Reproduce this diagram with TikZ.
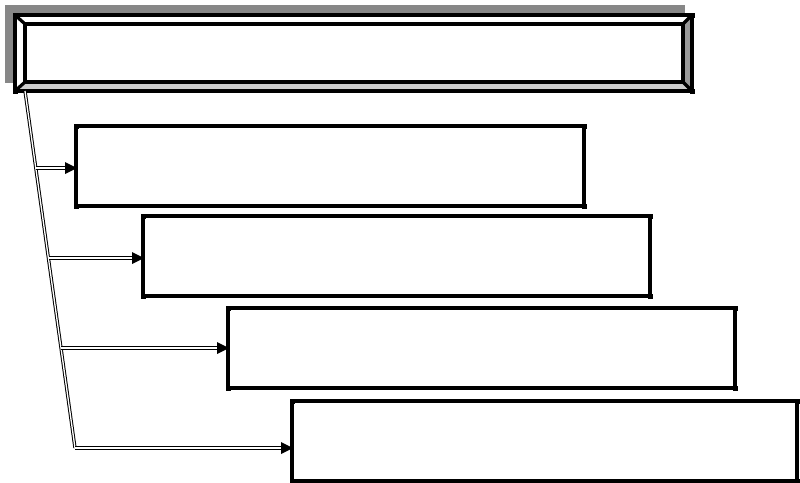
\documentclass[tikz,border=0pt]{standalone}
\usetikzlibrary{calc}
\definecolor{shadowgray}{HTML}{878787}
\definecolor{bevelbottom}{HTML}{CCCCCC}
\definecolor{bevelright}{HTML}{999999}
\begin{document}
\begin{tikzpicture}[x=1pt,y=-1pt,
  box/.style={draw=black, line width=3.2pt, fill=white, inner sep=0pt, outer sep=0pt,
    minimum height=80pt},
  bevelline/.style={draw=black, line width=3.2pt},
  dbl/.style={draw=black, double=white, line width=1pt, double distance=1.3pt},
  tiphead/.style={fill=black},
  cornerdot/.style={fill=black}
]
\useasboundingbox (0,0) rectangle (800,482);

% shadow
\fill[shadowgray] (5,5) rectangle (685,83);

% main bevelled frame
\node[box, minimum width=677pt, minimum height=76pt] (main) at (353.5,53) {};
\coordinate (inw) at ($(main.north west)+(10,9)$);
\coordinate (ine) at ($(main.north east)+(-9,9)$);
\coordinate (isw) at ($(main.south west)+(10,-9)$);
\coordinate (ise) at ($(main.south east)+(-9,-9)$);
\fill[bevelbottom] (main.south west) -- (main.south east) -- (ise) -- (isw) -- cycle;
\fill[bevelright] (main.north east) -- (main.south east) -- (ise) -- (ine) -- cycle;
\draw[bevelline] (main.north west) rectangle (main.south east);
\draw[bevelline] (inw) rectangle (ise);
\draw[bevelline] (main.north west) -- (inw);
\draw[bevelline] (main.north east) -- (ine);
\draw[bevelline] (main.south west) -- (isw);
\draw[bevelline] (main.south east) -- (ise);

% boxes
\node[box, minimum width=508pt] (b1) at (330,166) {};
\node[box, minimum width=507pt] (b2) at (396.5,256) {};
\node[box, minimum width=507pt] (b3) at (481.5,348) {};
\node[box, minimum width=505pt] (b4) at (544.5,441) {};

% corner dots
\foreach \n in {main,b1,b2,b3,b4}{
  \foreach \a in {north west,north east,south west,south east}{
    \fill[cornerdot] ($(\n.\a)+(-2.5,-2.5)$) rectangle ++(5,5);
  }
}

% slanted trunk
\coordinate (top) at ($(main.south west)+(10,0)$);
\coordinate (bot) at (75,448);
\draw[dbl] (top) -- (bot);

\coordinate (p1) at (35.9,168);
\coordinate (p2) at (48.5,258);
\coordinate (p3) at (61.0,348);

\foreach \p/\b in {p1/b1,p2/b2,p3/b3,bot/b4}{
  \draw[dbl] (\p) -- ($(\p -| \b.west)+(-9,0)$);
  \fill[tiphead] ($(\p -| \b.west)+(1,0)$) -- ++(-12,-6) -- ++(0,12) -- cycle;
}
\end{tikzpicture}
\end{document}
